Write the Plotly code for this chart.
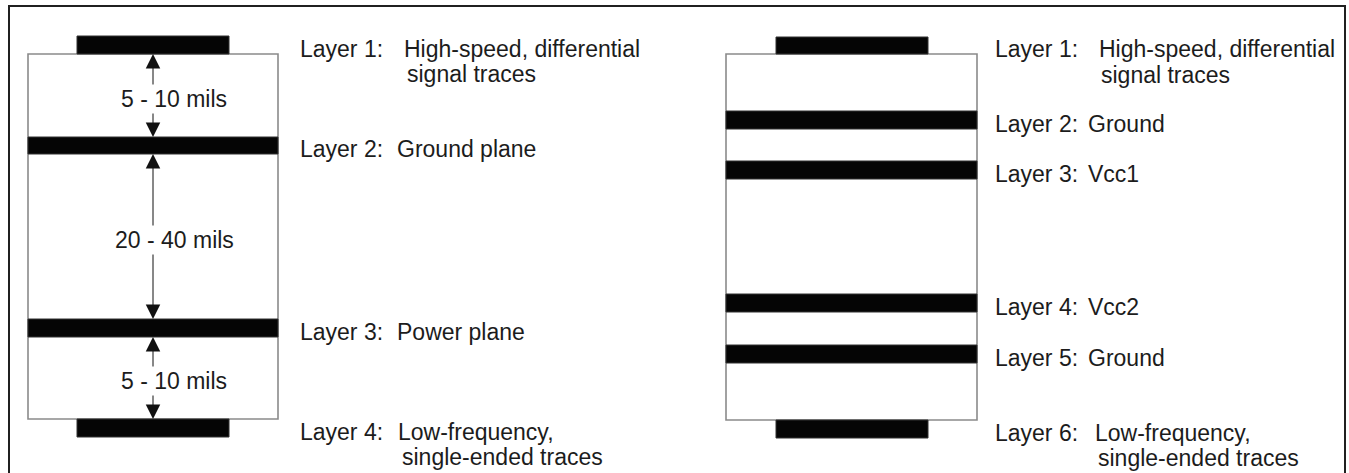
import plotly.graph_objects as go

# ---------------- data ----------------
# Left stack (4-layer board): depth of each copper layer (top, bottom) in diagram units
left_names = ["Layer 1:", "Layer 2:", "Layer 3:", "Layer 4:"]
left_desc1 = ["High-speed, differential", "Ground plane", "Power plane", "Low-frequency,"]
left_desc2 = ["signal traces", "", "", "single-ended traces"]
left_kind = ["trace", "plane", "plane", "trace"]
left_top = [36, 137, 319, 419]
left_bot = [54, 154, 337, 437]

# dielectric spacing dimensions on the left stack
dim_from = [54, 154, 337]
dim_to = [137, 319, 419]
dim_labels = ["5 - 10 mils", "20 - 40 mils", "5 - 10 mils"]

# Right stack (6-layer board)
right_names = ["Layer 1:", "Layer 2:", "Layer 3:", "Layer 4:", "Layer 5:", "Layer 6:"]
right_desc1 = ["High-speed, differential", "Ground", "Vcc1", "Vcc2", "Ground", "Low-frequency,"]
right_desc2 = ["signal traces", "", "", "", "", "single-ended traces"]
right_kind = ["trace", "plane", "plane", "plane", "plane", "trace"]
right_top = [37, 111, 161, 294, 345, 420]
right_bot = [54, 129, 179, 312, 363, 438]

# ---------------- layout / style ----------------
W, H = 1349, 473
FONT = "Liberation Sans, Arial, sans-serif"
FS = 23
TXT = "#1c1c1c"
CU = "#050505"
BOARD_LINE = "#8a8a8a"

stacks = [
    dict(names=left_names, d1=left_desc1, d2=left_desc2, kind=left_kind, top=left_top, bot=left_bot,
         bx0=28, bx1=278, tx0=77, tx1=229, lx=298,
         d1x=[402, 395, 395, 396], d2x=[405, 0, 0, 400]),
    dict(names=right_names, d1=right_desc1, d2=right_desc2, kind=right_kind, top=right_top, bot=right_bot,
         bx0=726, bx1=977, tx0=776, tx1=928, lx=993,
         d1x=[1097, 1086, 1086, 1086, 1086, 1093], d2x=[1099, 0, 0, 0, 0, 1096]),
]

fig = go.Figure()
fig.add_trace(go.Scatter(x=[0, W], y=[0, H], mode="markers", marker=dict(opacity=0), hoverinfo="skip",
                         showlegend=False))

shapes = []
annotations = []

# outer frame
shapes.append(dict(type="rect", xref="x", yref="y", x0=9, y0=6, x1=1345, y1=H + 20,
                   line=dict(color="#202020", width=2), fillcolor="rgba(0,0,0,0)"))

for st in stacks:
    # board outline (dielectric body)
    b_top = st["bot"][0]
    b_bot = st["top"][-1]
    shapes.append(dict(type="rect", xref="x", yref="y", x0=st["bx0"], x1=st["bx1"], y0=b_top, y1=b_bot,
                       line=dict(color=BOARD_LINE, width=1.6), fillcolor="white", layer="below"))
    for i, name in enumerate(st["names"]):
        if st["kind"][i] == "trace":
            x0, x1 = st["tx0"], st["tx1"]
        else:
            x0, x1 = st["bx0"], st["bx1"]
        shapes.append(dict(type="rect", xref="x", yref="y", x0=x0, x1=x1, y0=st["top"][i], y1=st["bot"][i],
                           line=dict(color="#333333", width=1), fillcolor=CU))
        yc = (st["top"][i] + st["bot"][i]) / 2 + 3.5
        annotations.append(dict(x=st["lx"], y=yc, xref="x", yref="y", text=name, showarrow=False,
                                xanchor="left", yanchor="middle", font=dict(family=FONT, size=FS, color=TXT)))
        annotations.append(dict(x=st["d1x"][i], y=yc, xref="x", yref="y", text=st["d1"][i], showarrow=False,
                                xanchor="left", yanchor="middle", font=dict(family=FONT, size=FS, color=TXT)))
        if st["d2"][i]:
            annotations.append(dict(x=st["d2x"][i], y=yc + 25.5, xref="x", yref="y", text=st["d2"][i],
                                    showarrow=False, xanchor="left", yanchor="middle",
                                    font=dict(family=FONT, size=FS, color=TXT)))

# dimension arrows on left stack
AX = 153
arrow_style = dict(showarrow=True, arrowhead=2, arrowsize=2.9, arrowwidth=1, arrowcolor="#111111",
                   standoff=0, text="", xref="x", yref="y", axref="x", ayref="y")
label_ann = []
for a, b, lab in zip(dim_from, dim_to, dim_labels):
    mid = (a + b) / 2 + 3
    annotations.append(dict(x=AX, y=a, ax=AX, ay=mid, **arrow_style))
    annotations.append(dict(x=AX, y=b, ax=AX, ay=mid, **arrow_style))
    label_ann.append(dict(x=AX + 21, y=mid, xref="x", yref="y", text=lab, showarrow=False,
                          xanchor="center", yanchor="middle", bgcolor="white", borderpad=1,
                          font=dict(family=FONT, size=FS, color=TXT)))
annotations.extend(label_ann)

fig.update_layout(
    width=W, height=H, margin=dict(l=0, r=0, t=0, b=0),
    paper_bgcolor="white", plot_bgcolor="white",
    xaxis=dict(range=[0, W], visible=False, fixedrange=True),
    yaxis=dict(range=[H, 0], visible=False, fixedrange=True),
    shapes=shapes, annotations=annotations, showlegend=False,
)

fig.write_html(
    "out.html",
    config={"displayModeBar": False},
    post_script="document.body.style.margin='0';document.body.style.overflow='hidden';",
)
